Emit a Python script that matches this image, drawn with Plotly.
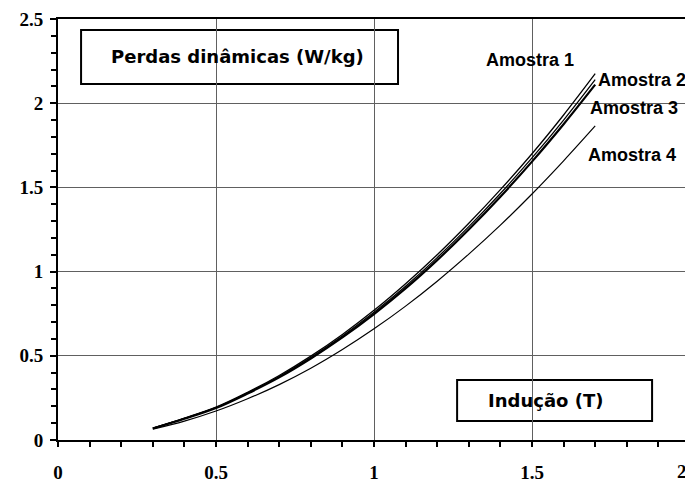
import plotly.graph_objects as go

induction = [0.3, 0.4, 0.5, 0.6, 0.7, 0.8, 0.9, 1.0, 1.1, 1.2, 1.3, 1.4, 1.5, 1.6, 1.7]
amostra1 = [0.070, 0.130, 0.195, 0.283, 0.383, 0.498, 0.627, 0.770, 0.928, 1.100, 1.287, 1.487, 1.700, 1.930, 2.175]
amostra2 = [0.070, 0.128, 0.192, 0.279, 0.377, 0.490, 0.617, 0.758, 0.913, 1.083, 1.267, 1.464, 1.675, 1.900, 2.140]
amostra3 = [0.068, 0.126, 0.190, 0.276, 0.372, 0.484, 0.609, 0.748, 0.900, 1.068, 1.250, 1.445, 1.653, 1.875, 2.110]
amostra4 = [0.064, 0.112, 0.172, 0.245, 0.329, 0.426, 0.537, 0.660, 0.795, 0.943, 1.104, 1.276, 1.461, 1.658, 1.865]

series_names = ["Amostra 1", "Amostra 2", "Amostra 3", "Amostra 4"]
x_ticks = [0, 0.5, 1, 1.5, 2]
y_ticks = [0, 0.5, 1, 1.5, 2, 2.5]

fig = go.Figure()
for name, ys, w in zip(series_names, [amostra1, amostra2, amostra3, amostra4], [1.3, 1.3, 2.2, 1.2]):
    fig.add_trace(go.Scatter(x=induction, y=ys, mode="lines", name=name,
                             line=dict(color="black", width=w, shape="spline"),
                             showlegend=False))

label_font = dict(family="Liberation Sans, Arial", size=18, color="black", weight="bold")
for name, xx, yy in [("Amostra 1", 1.354, 2.257), ("Amostra 2", 1.709, 2.138), ("Amostra 3", 1.684, 1.971), ("Amostra 4", 1.677, 1.692)]:
    fig.add_annotation(x=xx, y=yy, text=name, showarrow=False, xanchor="left", yanchor="middle",
                       font=label_font, xshift=-2)

box_font = dict(family="DejaVu Sans, Verdana", size=18, color="black", weight="bold")
fig.add_shape(type="rect", x0=0.073, x1=1.076, y0=2.114, y1=2.435, line=dict(color="black", width=2),
              fillcolor="white", layer="below")
fig.add_annotation(x=0.567, y=2.28, text="Perdas dinâmicas (W/kg)", showarrow=False,
                   xanchor="center", yanchor="middle", font=box_font)
fig.add_shape(type="rect", x0=1.263, x1=1.88, y0=0.113, y1=0.356, line=dict(color="black", width=2),
              fillcolor="white", layer="below")
fig.add_annotation(x=1.544, y=0.236, text="Indução (T)", showarrow=False,
                   xanchor="center", yanchor="middle", font=box_font)

tick_font = dict(family="Liberation Serif, Times New Roman", size=19, color="black", weight="bold")
x_text = [str(v) for v in x_ticks]
x_text[-1] = ""
fig.add_annotation(x=2, y=0, yref="y", text=str(x_ticks[-1]), showarrow=False, xanchor="right",
                   yanchor="top", yshift=-19, xshift=-1, font=tick_font)
fig.update_xaxes(range=[0, 2], tickvals=x_ticks, ticktext=x_text, automargin=False,
                 showgrid=True, gridcolor="#606060", gridwidth=1,
                 showline=True, linecolor="black", linewidth=2, mirror=True,
                 ticks="outside", ticklen=5, tickcolor="black", tickwidth=1.5,
                 minor=dict(dtick=0.1, ticks="outside", ticklen=5, tickcolor="black", showgrid=False),
                 tickfont=tick_font, ticklabelstandoff=9, zeroline=False)
fig.update_yaxes(range=[0, 2.5], tickvals=y_ticks, ticktext=[str(v) for v in y_ticks], automargin=False,
                 showgrid=True, gridcolor="#606060", gridwidth=1,
                 showline=True, linecolor="black", linewidth=2, mirror=True,
                 ticks="outside", ticklen=6, tickcolor="black", tickwidth=1.5,
                 minor=dict(dtick=0.1, ticks="outside", ticklen=5, tickcolor="black", showgrid=False),
                 tickfont=tick_font, ticklabelstandoff=3, zeroline=False)

# page body has an 8px margin, so the figure is sized to fit the 693x484 window
fig.update_layout(width=685, height=476, margin=dict(l=50, r=3, t=11, b=44),
                  plot_bgcolor="white", paper_bgcolor="white")
fig.write_html("out.html")
